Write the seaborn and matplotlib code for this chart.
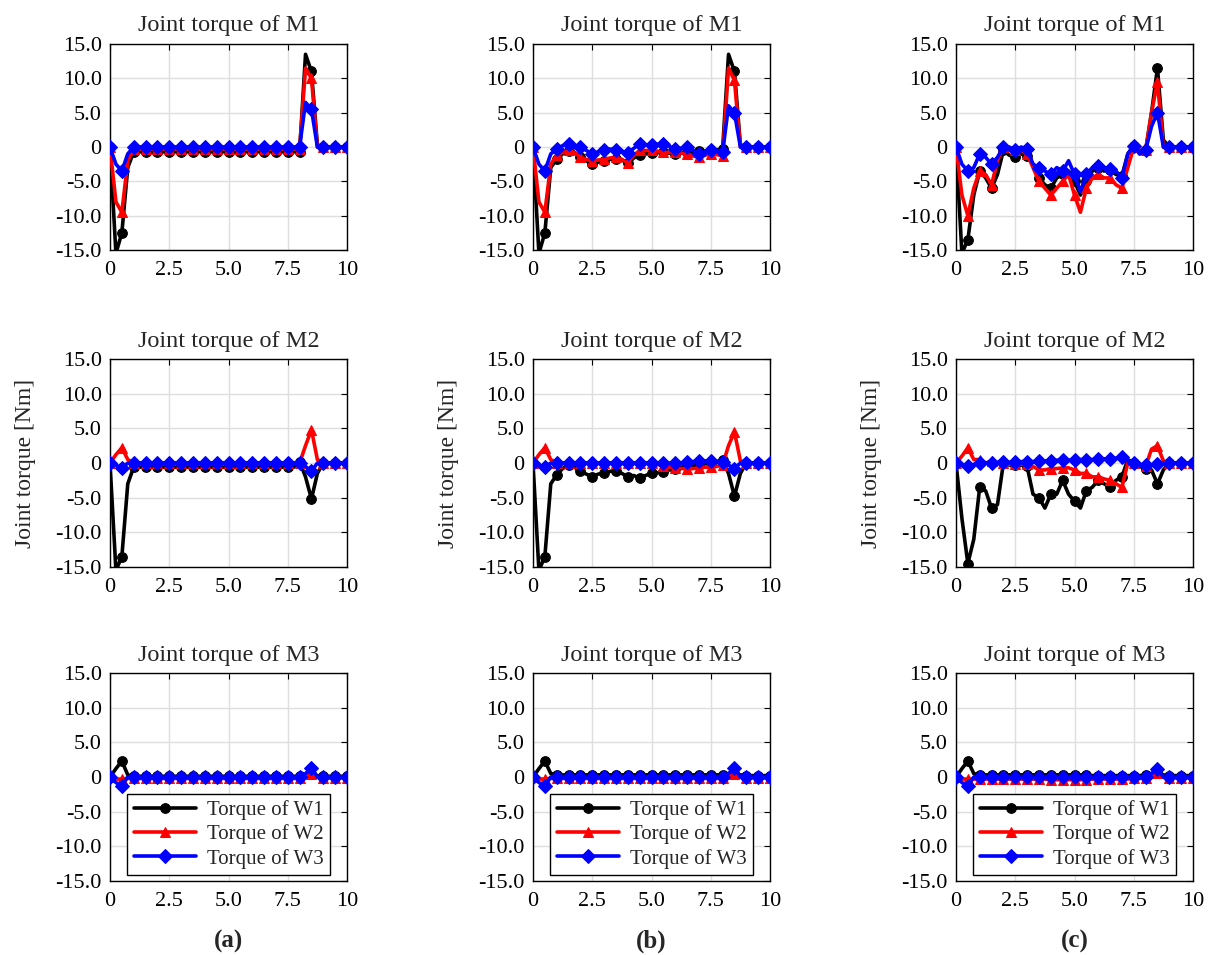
import matplotlib
matplotlib.use("Agg")
import matplotlib.pyplot as plt
import numpy as np
import pandas as pd
import seaborn as sns

# sampling time [s]
time = [0, 0.25, 0.5, 0.75, 1.0, 1.25, 1.5, 1.75, 2.0, 2.25,
        2.5, 2.75, 3.0, 3.25, 3.5, 3.75, 4.0, 4.25, 4.5, 4.75,
        5.0, 5.25, 5.5, 5.75, 6.0, 6.25, 6.5, 6.75, 7.0, 7.25,
        7.5, 7.75, 8.0, 8.25, 8.5, 8.75, 9.0, 9.25, 9.5, 9.75, 10.0]

# ---- case (a)
a_m1_w1 = [0, -15.5, -12.5, -3, -0.7, -0.7, -0.7, -0.7, -0.7, -0.7,
           -0.7, -0.7, -0.7, -0.7, -0.7, -0.7, -0.7, -0.7, -0.7, -0.7,
           -0.7, -0.7, -0.7, -0.7, -0.7, -0.7, -0.7, -0.7, -0.7, -0.7,
           -0.7, -0.7, -0.7, 13.5, 11, 0.3, 0, 0, 0, 0, 0]
a_m1_w2 = [0, -8, -9.5, -2, -0.3, -0.3, -0.3, -0.3, -0.3, -0.3,
           -0.3, -0.3, -0.3, -0.3, -0.3, -0.3, -0.3, -0.3, -0.3, -0.3,
           -0.3, -0.3, -0.3, -0.3, -0.3, -0.3, -0.3, -0.3, -0.3, -0.3,
           -0.3, -0.3, -0.3, 11.5, 10, 0, 0, 0, 0, 0, 0]
a_m1_w3 = [0, -2.5, -3.5, -1, 0, 0, 0, 0, 0, 0,
           0, 0, 0, 0, 0, 0, 0, 0, 0, 0,
           0, 0, 0, 0, 0, 0, 0, 0, 0, 0,
           0, 0, 0, 6.5, 5.5, 0, 0, 0, 0, 0, 0]

a_m2_w1 = [0, -15.5, -13.5, -3, -0.6, -0.6, -0.6, -0.6, -0.6, -0.6,
           -0.6, -0.6, -0.6, -0.6, -0.6, -0.6, -0.6, -0.6, -0.6, -0.6,
           -0.6, -0.6, -0.6, -0.6, -0.6, -0.6, -0.6, -0.6, -0.6, -0.6,
           -0.6, -0.6, 0.2, -2, -5.2, -1.5, 0, 0, 0, 0, 0]
a_m2_w2 = [0, 1.2, 2.2, 0.5, 0, 0, 0, 0, 0, 0,
           0, 0, 0, 0, 0, 0, 0, 0, 0, 0,
           0, 0, 0, 0, 0, 0, 0, 0, 0, 0,
           0, 0, 0, 2.5, 4.8, 0.5, 0, 0, 0, 0, 0]
a_m2_w3 = [0, -0.3, -0.7, 0, 0, 0, 0, 0, 0, 0,
           0, 0, 0, 0, 0, 0, 0, 0, 0, 0,
           0, 0, 0, 0, 0, 0, 0, 0, 0, 0,
           0, 0, 0, -0.5, -1.2, 0, 0, 0, 0, 0, 0]

a_m3_w1 = [0, 1.2, 2.3, 0.3, 0.1, 0.1, 0.1, 0.1, 0.1, 0.1,
           0.1, 0.1, 0.1, 0.1, 0.1, 0.1, 0.1, 0.1, 0.1, 0.1,
           0.1, 0.1, 0.1, 0.1, 0.1, 0.1, 0.1, 0.1, 0.1, 0.1,
           0.1, 0.1, 0.1, 0.3, 0.5, 0.2, 0.1, 0.1, 0.1, 0.1, 0.1]
a_m3_w2 = [0, -0.3, -0.3, -0.2, -0.2, -0.2, -0.2, -0.2, -0.2, -0.2,
           -0.2, -0.2, -0.2, -0.2, -0.2, -0.2, -0.2, -0.2, -0.2, -0.2,
           -0.2, -0.2, -0.2, -0.2, -0.2, -0.2, -0.2, -0.2, -0.2, -0.2,
           -0.2, -0.2, -0.2, 0.3, 0.5, 0, -0.1, -0.1, -0.1, -0.1, -0.1]
a_m3_w3 = [0, -0.8, -1.3, 0, 0, 0, 0, 0, 0, 0,
           0, 0, 0, 0, 0, 0, 0, 0, 0, 0,
           0, 0, 0, 0, 0, 0, 0, 0, 0, 0,
           0, 0, 0, 0.5, 1.3, 0, 0, 0, 0, 0, 0]

# ---- case (b)
b_m1_w1 = [0, -15.5, -12.5, -3, -1.8, -1.0, -0.6, -0.8, -1.4, -2.0,
           -2.5, -2.2, -2.1, -1.8, -1.7, -1.9, -2.4, -1.6, -1.2, -1.0,
           -0.9, -0.8, -0.7, -0.9, -1.0, -0.9, -0.7, -0.7, -0.6, -0.6,
           -0.5, -0.4, -0.3, 13.5, 11, 0.3, 0, 0, 0, 0, 0]
b_m1_w2 = [0, -8, -9.5, -2.5, -1.2, -0.8, -0.5, -0.8, -1.5, -1.8,
           -2.0, -1.9, -1.8, -1.6, -1.5, -1.8, -2.3, -1.2, -0.5, -0.5,
           -0.5, -0.6, -0.8, -0.8, -0.8, -0.9, -1.0, -1.3, -1.5, -1.2,
           -1.0, -1.1, -1.3, 11.5, 9.7, 0, 0, 0, 0, 0, 0]
b_m1_w3 = [0, -2.5, -3.5, -1.0, -0.3, 0.2, 0.5, 0.2, 0, -0.5,
           -1.0, -0.7, -0.5, -0.3, -0.4, -0.6, -0.9, -0.2, 0.5, 0.3,
           0.3, 0.4, 0.5, 0.1, -0.3, -0.2, 0, -0.5, -1.0, -0.8,
           -0.5, -0.6, -0.8, 6, 5, 0, 0, 0, 0, 0, 0]

b_m2_w1 = [0, -15.5, -13.5, -3, -1.7, -0.8, -0.3, -0.6, -1.2, -1.6,
           -2.0, -1.6, -1.5, -1.2, -1.2, -1.5, -2.0, -1.8, -2.2, -1.8,
           -1.5, -1.4, -1.3, -1.0, -0.8, -0.6, -0.5, -0.4, -0.3, -0.1,
           0, 0.2, 0.5, -1.5, -4.8, -1.5, 0, 0, 0, 0, 0]
b_m2_w2 = [0, 1.2, 2.2, 0.5, 0, 0, 0, 0, 0, 0,
           0, 0, 0, 0, 0, 0, 0, 0, 0, 0,
           0, -0.2, -0.4, -0.6, -0.7, -0.8, -0.8, -0.8, -0.7, -0.6,
           -0.6, -0.5, -0.3, 2.5, 4.5, 0.3, 0, 0, 0, 0, 0]
b_m2_w3 = [0, -0.3, -0.6, 0, 0, 0, 0, 0, 0, 0,
           0, 0, 0, 0, 0, 0, 0, 0, 0, 0,
           0, 0, 0, 0, 0, 0, 0.1, 0.2, 0.3, 0.3,
           0.3, 0.2, 0.2, -0.3, -0.8, 0, 0, 0, 0, 0, 0]

b_m3_w1 = [0, 1.2, 2.3, 0.5, 0.3, 0.3, 0.3, 0.3, 0.3, 0.3,
           0.3, 0.3, 0.3, 0.3, 0.3, 0.3, 0.3, 0.3, 0.3, 0.3,
           0.3, 0.3, 0.3, 0.3, 0.3, 0.3, 0.3, 0.3, 0.3, 0.3,
           0.3, 0.3, 0.3, 0.4, 0.6, 0.3, 0.2, 0.2, 0.2, 0.2, 0.2]
b_m3_w2 = [0, -0.3, -0.3, -0.2, -0.2, -0.2, -0.2, -0.2, -0.2, -0.2,
           -0.2, -0.2, -0.2, -0.2, -0.2, -0.2, -0.2, -0.2, -0.2, -0.2,
           -0.2, -0.2, -0.2, -0.2, -0.2, -0.2, -0.2, -0.2, -0.2, -0.2,
           -0.2, -0.2, -0.2, 0.2, 0.4, 0, -0.1, -0.1, -0.1, -0.1, -0.1]
b_m3_w3 = [0, -0.8, -1.3, 0, 0, 0, 0, 0, 0, 0,
           0, 0, 0, 0, 0, 0, 0, 0, 0, 0,
           0, 0, 0, 0, 0, 0, 0, 0, 0, 0,
           0, 0, 0, 0.5, 1.3, 0, 0, 0, 0, 0, 0]

# ---- case (c)
c_m1_w1 = [0, -15.5, -13.5, -7, -3.5, -4.5, -6, -4, -0.5, -1.2,
           -1.5, -1.0, -1.3, -2.5, -4.5, -5.5, -6, -4.5, -4, -3.5,
           -5, -7, -5, -3.5, -3, -3.5, -3.3, -4, -4.2, -1,
           0.2, -1, -0.5, 5, 11.5, 1, 0, 0, 0, 0, 0]
c_m1_w2 = [0, -7, -10, -6, -3.5, -4, -5.5, -2, 0, -0.5,
           -0.5, -0.5, -1, -3, -5, -6, -7, -6, -5, -4,
           -7, -9.5, -6, -4.5, -4, -4.5, -4.5, -5.5, -6, -3,
           0, -0.5, -0.5, 5, 9.5, 0, 0, 0, 0, 0, 0]
c_m1_w3 = [0, -2.5, -3.5, -3, -1, -1.5, -2.5, -1.5, 0, 0,
           -0.5, 0, -0.3, -2.5, -3, -3.5, -4, -3, -3.5, -2,
           -4, -6.5, -4, -3, -2.8, -3, -3.2, -3.5, -4.5, -1,
           0.2, -1, -0.5, 3, 5, 0, 0, 0, 0, 0, 0]

c_m2_w1 = [0, -8, -14.5, -11, -3.5, -4, -6.5, -6, 0, -0.3,
           -0.3, -0.3, -0.5, -4.5, -5, -6.5, -4.5, -4.5, -2.5, -4.5,
           -5.5, -6.5, -4, -3.5, -2.5, -3, -3.5, -2.5, -2, 0.5,
           0, -0.5, -0.8, -1, -3, -1, 0, 0, 0, 0, 0]
c_m2_w2 = [0, 1, 2.2, 0.5, 0.5, 0, 0.3, 0, 0, -0.2,
           -0.2, -0.2, -0.2, -0.5, -1, -1, -0.8, -0.8, -0.7, -0.7,
           -1, -1.5, -1.5, -2, -2, -2.3, -2.5, -3, -3.5, 0,
           0, -0.3, -0.5, 2, 2.5, 0.3, 0, 0, 0, 0, 0]
c_m2_w3 = [0, -0.3, -0.5, -0.2, 0, 0, 0, 0.1, 0.1, 0.1,
           0.1, 0.2, 0.2, 0.2, 0.3, 0.3, 0.3, 0.4, 0.4, 0.4,
           0.5, 0.5, 0.5, 0.5, 0.6, 0.6, 0.6, 0.7, 0.8, 0.3,
           0, -0.2, -0.3, -0.3, -0.2, 0, 0, 0, 0, 0, 0]

c_m3_w1 = [0, 1.2, 2.3, 0.5, 0.3, 0.3, 0.3, 0.3, 0.3, 0.3,
           0.3, 0.3, 0.3, 0.3, 0.3, 0.3, 0.3, 0.3, 0.3, 0.3,
           0.3, 0.3, 0.3, 0.2, 0.2, 0.2, 0.2, 0.2, 0.2, 0.2,
           0.2, 0.2, 0.3, 0.5, 0.8, 0.3, 0.2, 0.2, 0.2, 0.2, 0.2]
c_m3_w2 = [0, -0.3, -0.3, -0.3, -0.3, -0.3, -0.3, -0.3, -0.3, -0.3,
           -0.3, -0.3, -0.3, -0.3, -0.3, -0.3, -0.4, -0.4, -0.4, -0.4,
           -0.4, -0.4, -0.4, -0.3, -0.3, -0.3, -0.3, -0.3, -0.3, -0.3,
           -0.2, -0.2, -0.1, 0.3, 0.6, 0, -0.1, -0.1, -0.1, -0.1, -0.1]
c_m3_w3 = [0, -0.8, -1.3, 0, 0, 0, 0, 0, 0, 0,
           0, 0, 0, 0, 0, 0, 0, 0, 0, 0,
           0, 0, 0, 0, 0, 0, 0, 0, 0, 0,
           0, 0, 0, 0.5, 1.2, 0, 0, 0, 0, 0, 0]

panel_titles = ["Joint torque of M1", "Joint torque of M2", "Joint torque of M3"]
series_names = ["Torque of W1", "Torque of W2", "Torque of W3"]
case_labels = ["(a)", "(b)", "(c)"]
yticks = [-15, -10, -5, 0, 5, 10, 15]
ytick_labels = ["-15.0", "-10.0", "-5.0", "0", "5.0", "10.0", "15.0"]
xticks = [0, 2.5, 5.0, 7.5, 10]
xtick_labels = ["0", "2.5", "5.0", "7.5", "10"]

cases = [
    [[a_m1_w1, a_m1_w2, a_m1_w3], [a_m2_w1, a_m2_w2, a_m2_w3], [a_m3_w1, a_m3_w2, a_m3_w3]],
    [[b_m1_w1, b_m1_w2, b_m1_w3], [b_m2_w1, b_m2_w2, b_m2_w3], [b_m3_w1, b_m3_w2, b_m3_w3]],
    [[c_m1_w1, c_m1_w2, c_m1_w3], [c_m2_w1, c_m2_w2, c_m2_w3], [c_m3_w1, c_m3_w2, c_m3_w3]],
]

colors = ["#000000", "#ff0000", "#0000ff"]
markers = ["o", "^", "D"]
msizes = [7, 7.5, 7]

sns.set_style("white")
plt.rcParams['font.family'] = ['Liberation Serif', 'DejaVu Serif']

W, H = 1216, 955
fig = plt.figure(figsize=(W / 100, H / 100), dpi=100)

col_left = [110, 533, 956]
ax_w = 237
rows = [(44, 250), (359, 567), (673, 881)]

for c in range(3):
    for r in range(3):
        top, bot = rows[r]
        ax = fig.add_axes([col_left[c] / W, 1 - bot / H, ax_w / W, (bot - top) / H])
        for k in range(3):
            df = pd.DataFrame({"t": time, "tau": cases[c][r][k]})
            sns.lineplot(data=df, x="t", y="tau", ax=ax, color=colors[k],
                         linewidth=2.6, marker=markers[k], markersize=msizes[k],
                         markeredgecolor=colors[k], markevery=2, label=series_names[k],
                         legend=False, zorder=3 + k)
        ax.set_xlim(0, 10)
        ax.set_ylim(-15, 15)
        ax.set_xticks(xticks)
        ax.set_xticklabels(xtick_labels)
        ax.set_yticks(yticks)
        ax.set_yticklabels(ytick_labels)
        ax.tick_params(direction='in', top=True, right=True, labelsize=16,
                       length=4, width=0.8, colors='black')
        ax.tick_params(axis='x', pad=8)
        ax.tick_params(axis='y', pad=6)
        ax.grid(True, color='#dedede', linewidth=1.0)
        ax.set_axisbelow(True)
        for s in ax.spines.values():
            s.set_color('black')
            s.set_linewidth(1.0)
        ax.set_title(panel_titles[r], fontsize=17.5, pad=9)
        ax.set_xlabel("")
        if r == 1:
            ax.set_ylabel("Joint torque [Nm]", fontsize=17, labelpad=14)
        else:
            ax.set_ylabel("")
        if r == 2:
            leg = ax.legend(loc='lower center', fontsize=15, frameon=True, fancybox=False,
                            edgecolor='black', framealpha=1, handlelength=3.0,
                            handletextpad=0.5, borderaxespad=0.3, labelspacing=0.2,
                            borderpad=0.3)
            leg.get_frame().set_linewidth(1.0)
    fig.text((col_left[c] + ax_w / 2) / W, 1 - 941 / H, case_labels[c],
             ha='center', va='center', fontsize=18, fontweight='bold')

fig.savefig("out.png", dpi=100)
